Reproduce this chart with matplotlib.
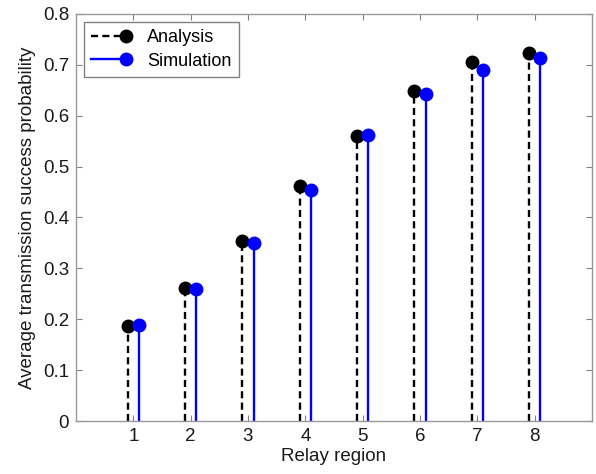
import matplotlib
matplotlib.use("Agg")
import matplotlib.pyplot as plt
from matplotlib.legend_handler import HandlerLine2D
from matplotlib.lines import Line2D
import numpy as np

plt.rcParams['font.family'] = ['Liberation Sans', 'DejaVu Sans']

regions = [1, 2, 3, 4, 5, 6, 7, 8]
analysis = [0.187, 0.261, 0.354, 0.461, 0.561, 0.649, 0.705, 0.724]
simulation = [0.189, 0.259, 0.350, 0.454, 0.563, 0.643, 0.690, 0.714]
offset = 0.1


class EndMarkerHandler(HandlerLine2D):
    def create_artists(self, legend, orig_handle, xdescent, ydescent, width, height,
                       fontsize, trans):
        y = (height - ydescent) / 2
        xm = width - xdescent - 4
        line = Line2D([-xdescent, xm], [y, y])
        self.update_prop(line, orig_handle, legend)
        line.set_marker('')
        mk = Line2D([xm], [y])
        self.update_prop(mk, orig_handle, legend)
        mk.set_linestyle('None')
        line.set_transform(trans)
        mk.set_transform(trans)
        return [line, mk]


fig = plt.figure(figsize=(5.96, 4.74), dpi=100)
ax = fig.add_axes([0.1275, 0.1118, 0.8658, 0.8587])

x = np.array(regions, dtype=float)
dash = (0, (3.0, 1.8))
ax.vlines(x - offset, 0, analysis, colors='black', linestyles=dash, linewidth=1.7, zorder=2)
ax.plot(x - offset, analysis, 'o', color='black', markersize=9, zorder=3)
ax.vlines(x + offset, 0, simulation, colors='#0000ff', linestyles='-', linewidth=1.7, zorder=2)
ax.plot(x + offset, simulation, 'o', color='#0000ff', markersize=9, zorder=3)

ax.set_xlim(0, 9)
ax.set_ylim(0, 0.8)
ax.set_xticks(regions)
ax.set_yticks([0, 0.1, 0.2, 0.3, 0.4, 0.5, 0.6, 0.7, 0.8])
ax.set_yticklabels(['0', '0.1', '0.2', '0.3', '0.4', '0.5', '0.6', '0.7', '0.8'])
ax.tick_params(direction='in', top=True, right=True, color='#808080', labelsize=13.5,
               labelcolor='#1a1a1a', length=4, pad=5)
for s in ax.spines.values():
    s.set_color('#999999')
    s.set_linewidth(1.0)

ax.set_xlabel('Relay region', fontsize=13.5, color='#1a1a1a', labelpad=2)
ax.set_ylabel('Average transmission success probability', fontsize=13.5, color='#1a1a1a', labelpad=5)

h1 = Line2D([], [], color='black', linestyle=dash, linewidth=1.7, marker='o', markersize=9)
h2 = Line2D([], [], color='#0000ff', linestyle='-', linewidth=1.7, marker='o', markersize=9)
leg = ax.legend([h1, h2], ['Analysis', 'Simulation'], loc='upper left',
                handler_map={Line2D: EndMarkerHandler()},
                fontsize=13, fancybox=False, framealpha=1, edgecolor='#808080',
                handlelength=2.2, borderaxespad=0.45, handletextpad=0.9,
                labelspacing=0.35, borderpad=0.4)
leg.get_frame().set_linewidth(1.0)

fig.savefig('out.png', dpi=100)
